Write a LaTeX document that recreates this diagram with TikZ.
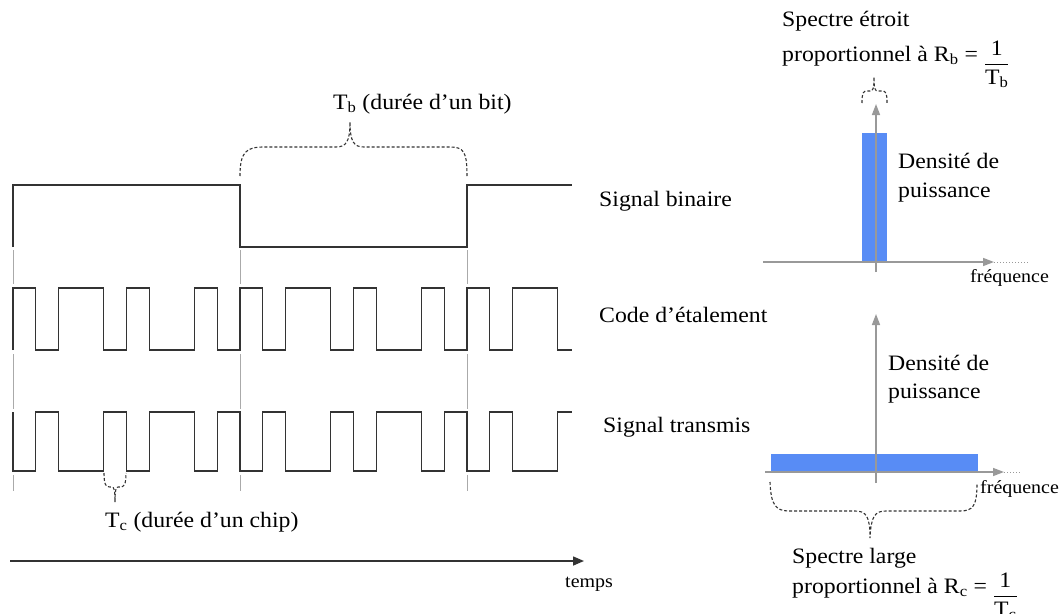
\documentclass[tikz,border=0pt]{standalone}
\usepackage{fontspec}
\usepackage{amsmath}
\setmainfont{Liberation Serif}[FakeStretch=1.08]
\usetikzlibrary{arrows.meta}
\definecolor{sig}{HTML}{333333}
\definecolor{guide}{HTML}{AAAAAA}
\definecolor{axisgray}{HTML}{999999}
\definecolor{barblue}{RGB}{88,140,245}
\newcommand{\myfrac}[1]{\raisebox{-9pt}{$\dfrac{\text{1}}{\text{T}_{\text{#1}}}$}}
\begin{document}
\begin{tikzpicture}[x=1pt,y=-1pt,
  lbl/.style={inner sep=0pt, anchor=base west, font=\fontsize{22}{26}\selectfont},
  small/.style={inner sep=0pt, anchor=base west, font=\fontsize{18.5}{22}\selectfont},
  signal/.style={draw=sig, line width=1.3pt, line join=miter},
  guideline/.style={draw=guide, line width=1pt},
  brace/.style={draw=sig, dash pattern=on 3pt off 2pt, line width=1.1pt},
  axisline/.style={draw=axisgray, line width=1.5pt, -{Triangle[length=11pt,width=8pt]}},
  ext/.style={draw=axisgray, dotted, line width=1pt},
  bar/.style={fill=barblue, draw=none},
  timeaxis/.style={draw=sig, line width=1.5pt, -{Triangle[length=11pt,width=9pt]}}]
\useasboundingbox (0,0) rectangle (1060,613);

% guide lines
\foreach \x in {13,240,467} {
  \draw[guideline] (\x,250) -- (\x,284);
  \draw[guideline] (\x,354) -- (\x,409);
  \draw[guideline] (\x,475) -- (\x,491);
}

% binary signal
\draw[signal] (13,247) -- (13,185) -- (240,185) -- (240,247) -- (467,247) -- (467,185) -- (572,185);

% spreading code
\draw[signal] (13,350) \foreach \v [count=\i from 0] in {1,0,1,1,0,1,0,0,1,0,1,0,1,1,0,1,0,0,1,0,1,0,1,1,0}
  { -- ({13+22.7*\i},{350-62*\v}) -- ({min(13+22.7*(\i+1),572)},{350-62*\v}) };

% transmitted signal
\draw[signal] (13,412) \foreach \v [count=\i from 0] in {0,1,0,0,1,0,1,1,0,1,0,1,0,0,1,0,1,1,0,1,0,1,0,0,1}
  { -- ({13+22.7*\i},{471-59*\v}) -- ({min(13+22.7*(\i+1),572)},{471-59*\v}) };

% Tb brace
\draw[brace] (240,176) .. controls (240,152) and (246,147) .. (264,147) -- (336,147)
  .. controls (346,147) and (350,142) .. (350,122)
  .. controls (350,142) and (354,147) .. (364,147) -- (450,147)
  .. controls (464,147) and (467,152) .. (467,176);
\node[lbl] (tb) at (333,109) {T\textsubscript{b} (durée d'un bit)};

% Tc brace
\draw[brace] (104,473) .. controls (104,485) and (106,487) .. (110,487) -- (112,487)
  .. controls (114,487) and (115,490) .. (115,502)
  .. controls (115,490) and (116,487) .. (118,487) -- (120,487)
  .. controls (124,487) and (126,485) .. (126,473);
\node[lbl] (tc) at (105,527) {T\textsubscript{c} (durée d'un chip)};

% labels
\node[lbl] (sb) at (599,206) {Signal binaire};
\node[lbl] (cde) at (599,322) {Code d'étalement};
\node[lbl] (st) at (603,432) {Signal transmis};

% time axis
\coordinate (t0) at (10,561);
\coordinate (t1) at (584,561);
\draw[timeaxis] (t0) -- (t1);
\node[small] (temps) at (565,587) {temps};

% top spectrum
\fill[bar] (862,133) rectangle (887,262);
\coordinate (a0) at (876,272);
\coordinate (a1) at (876,104);
\coordinate (h0) at (763,262);
\coordinate (h1) at (994,262);
\coordinate (h2) at (1028,262);
\draw[axisline] (a0) -- (a1);
\draw[axisline] (h0) -- (h1);
\draw[ext] (h1) -- (h2);
\draw[brace] (862,103) .. controls (862,93) and (863,91) .. (867,91) -- (870,91)
  .. controls (873,91) and (874,89) .. (874,77)
  .. controls (874,89) and (875,91) .. (878,91) -- (882,91)
  .. controls (886,91) and (887,93) .. (887,103);
\node[lbl] (s1) at (782,27) {Spectre étroit};
\node[lbl] (s2) at (782,61) {proportionnel à R\textsubscript{b} = \myfrac{b}};
\node[lbl] (d1) at (898,168) {Densité de};
\node[lbl] (d2) at (898,197) {puissance};
\node[small] (f1) at (970,282) {fréquence};

% bottom spectrum
\fill[bar] (771,454) rectangle (978,472);
\coordinate (b0) at (876,483);
\coordinate (b1) at (876,314);
\coordinate (g0) at (765,472);
\coordinate (g1) at (1004,472);
\coordinate (g2) at (1020,472);
\draw[axisline] (b0) -- (b1);
\draw[axisline] (g0) -- (g1);
\draw[ext] (g1) -- (g2);
\draw[brace] (770,482) .. controls (771,506) and (776,511) .. (790,511) -- (855,511)
  .. controls (866,511) and (870,516) .. (870,538)
  .. controls (871,516) and (875,511) .. (886,511) -- (960,511)
  .. controls (973,511) and (977,506) .. (977,483);
\node[lbl] (d3) at (888,370) {Densité de};
\node[lbl] (d4) at (888,398) {puissance};
\node[small] (f2) at (980,493) {fréquence};
\node[lbl] (l1) at (792,563) {Spectre large};
\node[lbl] (l2) at (792,593) {proportionnel à R\textsubscript{c} = \myfrac{c}};
\end{tikzpicture}
\end{document}
